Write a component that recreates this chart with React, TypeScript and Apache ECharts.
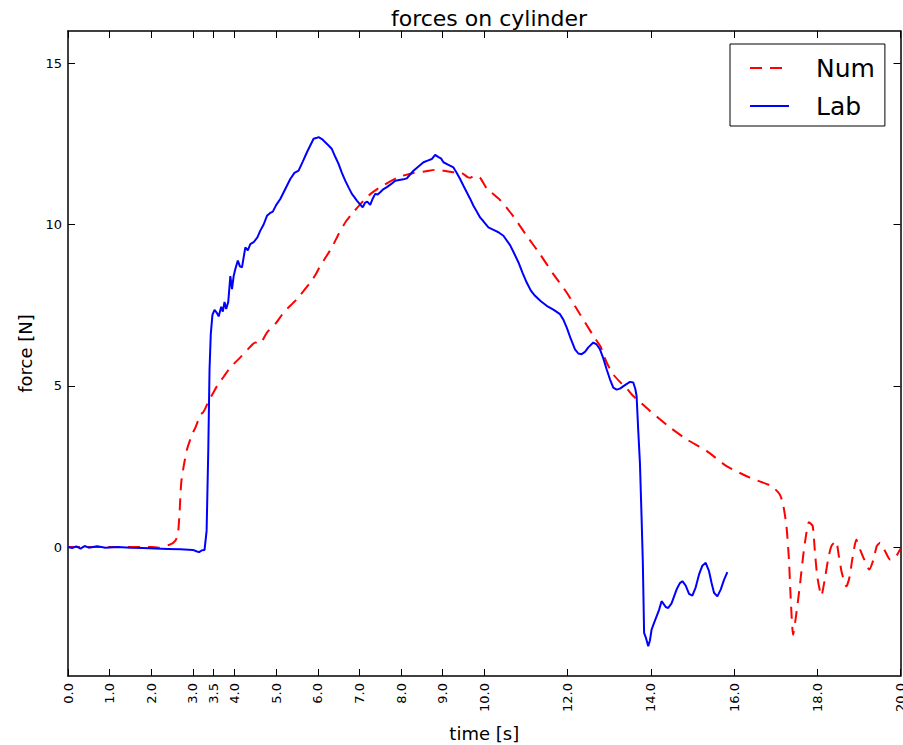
import React, { useEffect, useRef } from "react";
import * as echarts from "echarts";

// ---- Data ----
const labTime = [
  0.0, 0.1, 0.2, 0.3, 0.4, 0.5, 0.7, 0.9, 1.2, 1.5, 1.8, 2.1, 2.4, 2.7, 3.0, 3.1, 3.15, 3.22, 3.28,
  3.33, 3.37, 3.4, 3.43, 3.47, 3.52, 3.58, 3.62, 3.68, 3.72, 3.76, 3.8, 3.85, 3.9, 3.94, 3.98,
  4.02, 4.08, 4.13, 4.18, 4.26, 4.32, 4.38, 4.46, 4.55, 4.62, 4.7, 4.78, 4.85, 4.92, 5.0, 5.1,
  5.22, 5.34, 5.44, 5.54, 5.64, 5.74, 5.82, 5.9, 5.96, 6.02, 6.1, 6.18, 6.26, 6.34, 6.42, 6.5,
  6.58, 6.66, 6.74, 6.82, 6.88, 6.94, 7.0, 7.08, 7.14, 7.19, 7.26, 7.32, 7.38, 7.44, 7.5, 7.58,
  7.66, 7.76, 7.86, 7.96, 8.06, 8.14, 8.22, 8.3, 8.42, 8.54, 8.64, 8.74, 8.82, 8.9, 8.96, 9.02,
  9.14, 9.26, 9.34, 9.42, 9.5, 9.58, 9.66, 9.74, 9.82, 9.9, 9.98, 10.1, 10.26, 10.34, 10.46,
  10.62, 10.72, 10.82, 10.92, 11.02, 11.12, 11.22, 11.36, 11.5, 11.66, 11.82, 11.9, 11.98, 12.08,
  12.18, 12.26, 12.34, 12.42, 12.5, 12.62, 12.7, 12.78, 12.86, 12.94, 13.02, 13.1, 13.18, 13.26,
  13.38, 13.5, 13.58, 13.63, 13.66, 13.7, 13.74, 13.78, 13.81, 13.84, 13.88, 13.94, 13.98, 14.02,
  14.08, 14.14, 14.2, 14.26, 14.3, 14.36, 14.42, 14.5, 14.62, 14.7, 14.76, 14.84, 14.92, 15.0,
  15.08, 15.16, 15.24, 15.32, 15.4, 15.46, 15.52, 15.6, 15.68, 15.76, 15.84,
];
const labForce = [
  0.0, -0.03, 0.02, -0.05, 0.03, -0.02, 0.02, -0.02, 0.0, -0.02, -0.03, -0.05, -0.06, -0.07, -0.09, -0.14, -0.16, -0.1, -0.09,
  0.5, 3.0, 5.5, 6.6, 7.2, 7.35, 7.25, 7.15, 7.45, 7.3, 7.6, 7.38, 7.6, 8.4, 8.0, 8.4,
  8.62, 8.88, 8.7, 8.67, 9.29, 9.2, 9.39, 9.45, 9.6, 9.81, 10.0, 10.27, 10.35, 10.4, 10.6, 10.79,
  11.1, 11.41, 11.6, 11.67, 11.95, 12.24, 12.45, 12.66, 12.68, 12.71, 12.65, 12.55, 12.45, 12.34, 12.1, 11.88,
  11.6, 11.36, 11.15, 10.95, 10.85, 10.74, 10.65, 10.53, 10.68, 10.71, 10.61, 10.8, 10.95, 10.93, 11.0, 11.1,
  11.16, 11.25, 11.36, 11.38, 11.4, 11.43, 11.55, 11.67, 11.8, 11.93, 11.98, 12.03, 12.16, 12.09, 12.05, 11.93,
  11.85, 11.77, 11.6, 11.41, 11.2, 11.0, 10.8, 10.58, 10.4, 10.22, 10.1, 9.91, 9.81, 9.76, 9.65,
  9.36, 9.1, 8.83, 8.5, 8.2, 7.95, 7.79, 7.62, 7.48, 7.36, 7.22, 7.05, 6.81, 6.45,
  6.13, 6.0, 5.98, 6.05, 6.19, 6.34, 6.28, 6.13, 5.85, 5.51, 5.2, 4.94, 4.88, 4.91,
  5.02, 5.12, 5.1, 4.9, 4.68, 3.6, 2.61, 0.9, -0.49, -2.66, -2.8, -3.08, -2.9, -2.56,
  -2.35, -2.15, -1.95, -1.68, -1.75, -1.86, -1.89, -1.75, -1.32, -1.12, -1.06, -1.2, -1.45, -1.51,
  -1.25, -0.85, -0.58, -0.49, -0.75, -1.11, -1.42, -1.53, -1.32, -1.02, -0.78,
];

const numTime = [
  0.0, 1.0, 2.0, 2.17, 2.3, 2.46, 2.58, 2.64, 2.68, 2.72, 2.78, 2.86, 2.98, 3.06, 3.12, 3.18, 3.24,
  3.3, 3.38, 3.48, 3.58, 3.74, 3.9, 4.14, 4.3, 4.5, 4.6, 4.78, 5.0, 5.18, 5.5, 5.82, 5.95, 6.06,
  6.2, 6.34, 6.5, 6.68, 6.82, 7.1, 7.3, 7.5, 7.94, 8.3, 8.6, 8.86, 9.1, 9.26, 9.42, 9.6, 9.66,
  9.78, 9.9, 10.06, 10.38, 10.7, 11.02, 11.34, 11.66, 11.98, 12.3, 12.62, 12.8, 12.94, 13.1, 13.26,
  13.4, 13.58, 13.74, 13.98, 14.45, 14.86, 15.34, 15.82, 16.38, 16.9, 17.1, 17.18, 17.26, 17.32,
  17.36, 17.42, 17.5, 17.58, 17.66, 17.74, 17.8, 17.89, 17.94, 18.0, 18.1, 18.18, 18.26, 18.34,
  18.45, 18.52, 18.59, 18.7, 18.78, 18.84, 18.94, 19.03, 19.13, 19.25, 19.35, 19.43, 19.51, 19.63,
  19.75, 19.87, 20.0,
];
const numForce = [
  0.0, 0.0, 0.0, -0.02, 0.03, 0.08, 0.2, 0.39, 1.06, 1.99, 2.51, 3.03, 3.49, 3.7, 3.9, 4.11, 4.17,
  4.3, 4.53, 4.76, 4.99, 5.28, 5.57, 5.88, 6.1, 6.34, 6.3, 6.65, 6.95, 7.27, 7.69, 8.2, 8.45, 8.72,
  9.0, 9.29, 9.7, 10.1, 10.33, 10.74, 10.98, 11.16, 11.47, 11.6, 11.65, 11.7, 11.65, 11.62, 11.62, 11.47, 11.45,
  11.52, 11.45, 11.12, 10.76, 10.25, 9.65, 9.08, 8.46, 7.89, 7.22, 6.55, 6.2, 5.72, 5.35, 5.12,
  4.95, 4.68, 4.5, 4.22, 3.72, 3.34, 2.98, 2.51, 2.15, 1.89, 1.63, 1.32, 0.65, -0.39,
  -1.53, -2.72, -2.04, -1.22, -0.29, 0.44, 0.77, 0.65, -0.08, -0.91, -1.51, -1.01, -0.39, 0.03,
  0.18, -0.29, -0.8, -1.22, -0.91, -0.39, 0.23, -0.08, -0.39, -0.7, -0.39, 0.03, 0.13, -0.13,
  -0.39, -0.34, -0.05,
];

const xTicks = [0, 1, 2, 3, 3.5, 4, 5, 6, 7, 8, 9, 10, 12, 14, 16, 18, 20];
const yTicks = [0, 5, 10, 15];

const FONT = "DejaVu Sans";

export default function App() {
  const ref = useRef<HTMLDivElement>(null);

  useEffect(() => {
    document.body.style.margin = "0";
    if (!ref.current) return;
    const chart = echarts.init(ref.current, null, { renderer: "svg" });

    const numData = numTime.map((t, i) => [t, numForce[i]]);
    const labData = labTime.map((t, i) => [t, labForce[i]]);

    const frameLine = { show: true, onZero: false, lineStyle: { color: "#000", width: 1.5 } };
    const tickStyle = { lineStyle: { color: "#000", width: 1 } };

    const option: any = {
      animation: false,
      backgroundColor: "#fff",
      textStyle: { fontFamily: FONT },
      title: {
        text: "forces on cylinder",
        left: 484,
        top: 2,
        textAlign: "center",
        textStyle: { fontFamily: FONT, fontSize: 22, fontWeight: "normal", color: "#000" },
      },
      legend: {
        orient: "vertical",
        left: 730,
        top: 44,
        padding: [10, 10, 6, 19],
        itemWidth: 39,
        itemHeight: 14,
        itemGap: 10,
        borderColor: "#000",
        borderWidth: 1,
        borderRadius: 0,
        backgroundColor: "#fff",
        itemStyle: { color: "transparent", borderWidth: 0, opacity: 0 },
        data: ["Num", "Lab"],
        textStyle: {
          fontFamily: FONT,
          fontSize: 25,
          color: "#000",
          lineHeight: 28,
          padding: [0, 0, 0, 22],
        },
      },
      grid: {
        left: 68,
        right: 2.5,
        top: 31,
        bottom: 69,
        containLabel: false,
        outerBoundsMode: "none",
      },
      xAxis: [
        {
          type: "value",
          position: "bottom",
          min: 0,
          max: 20,
          axisLine: frameLine,
          axisTick: { show: true, inside: true, length: 7, customValues: xTicks, ...tickStyle },
          axisLabel: {
            customValues: xTicks,
            rotate: 90,
            margin: 7,
            fontSize: 13,
            fontFamily: FONT,
            color: "#000",
            formatter: (v: number) => v.toFixed(1),
          },
          splitLine: { show: false },
          name: "time [s]",
          nameLocation: "middle",
          nameGap: 48,
          nameTextStyle: { fontFamily: FONT, fontSize: 18, color: "#000" },
        },
        {
          type: "value",
          position: "top",
          min: 0,
          max: 20,
          axisLine: frameLine,
          axisTick: { show: true, inside: true, length: 7, customValues: xTicks, ...tickStyle },
          axisLabel: { show: false },
          splitLine: { show: false },
        },
      ],
      yAxis: [
        {
          type: "value",
          position: "left",
          min: -4,
          max: 16,
          axisLine: frameLine,
          axisTick: { show: true, inside: true, length: 7, customValues: yTicks, ...tickStyle },
          axisLabel: {
            customValues: yTicks,
            margin: 6,
            fontSize: 13,
            fontFamily: FONT,
            color: "#000",
          },
          splitLine: { show: false },
          name: "force [N]",
          nameLocation: "middle",
          nameRotate: 90,
          nameGap: 34,
          nameTextStyle: { fontFamily: FONT, fontSize: 18, color: "#000" },
        },
        {
          type: "value",
          position: "right",
          min: -4,
          max: 16,
          axisLine: frameLine,
          axisTick: { show: true, inside: true, length: 7, customValues: yTicks, ...tickStyle },
          axisLabel: { show: false },
          splitLine: { show: false },
        },
      ],
      series: [
        {
          name: "Num",
          type: "line",
          xAxisIndex: 0,
          yAxisIndex: 0,
          data: numData,
          symbol: "none",
          smooth: 0.2,
          color: "#ff0000",
          lineStyle: { color: "#ff0000", width: 2, type: [12, 8] },
        },
        {
          name: "Lab",
          type: "line",
          xAxisIndex: 0,
          yAxisIndex: 0,
          data: labData,
          symbol: "none",
          color: "#0000ff",
          lineStyle: { color: "#0000ff", width: 2 },
        },
      ],
    };

    chart.setOption(option);
    return () => chart.dispose();
  }, []);

  return (
    <div
      ref={ref}
      style={{ position: "absolute", left: 0, top: 0, width: 903, height: 745 }}
    />
  );
}
